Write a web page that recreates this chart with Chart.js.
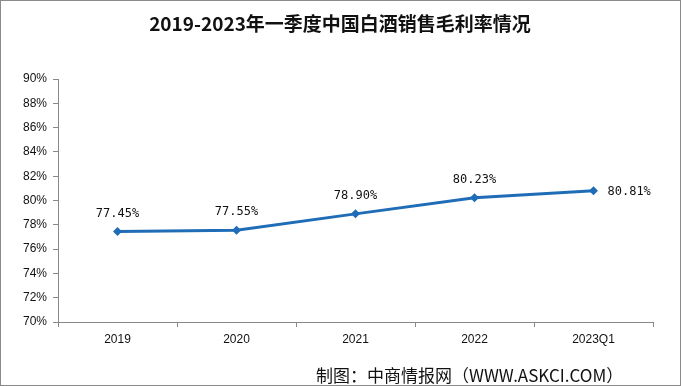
<!DOCTYPE html>
<html lang="zh">
<head>
<script src="https://cdn.jsdelivr.net/npm/chart.js@4/dist/chart.umd.min.js"></script>
<style>
    html, body { margin: 0; padding: 0; background: #fff; }
    #wrap { position: relative; width: 681px; height: 386px; }
</style>
</head>
<body>
<div id="wrap">
    <canvas id="margin-chart" width="681" height="386"></canvas>
</div>
<script>
    const labels = ["2019", "2020", "2021", "2022", "2023Q1"];
    const grossMargin = [77.45, 77.55, 78.90, 80.23, 80.81]; // %
    const titleText = "2019-2023年一季度中国白酒销售毛利率情况";
    const sourceText = "制图：中商情报网（WWW.ASKCI.COM）";

    const lineBlue = "#1f6db6";

    // title, source, frame and point labels
    const decorations = {
        id: "decorations",
        afterDatasetsDraw(chart) {
            const ctx = chart.ctx;
            const meta = chart.getDatasetMeta(0);
            ctx.save();
            ctx.fillStyle = "#111";
            ctx.font = "12px 'DejaVu Sans Mono', monospace";
            ctx.textBaseline = "middle";
            meta.data.forEach((pt, i) => {
                const txt = grossMargin[i].toFixed(2) + "%";
                if (i === meta.data.length - 1) {
                    ctx.textAlign = "left";
                    ctx.fillText(txt, pt.x + 14, pt.y + 1);
                } else {
                    ctx.textAlign = "center";
                    ctx.fillText(txt, pt.x, pt.y - 18);
                }
            });
            ctx.restore();
        },
        afterDraw(chart) {
            const ctx = chart.ctx;
            ctx.save();
            ctx.fillStyle = "#111";
            ctx.textAlign = "center";
            ctx.textBaseline = "middle";
            ctx.font = "bold 19px 'Noto Sans CJK SC'";
            ctx.fillText(titleText, 340, 24);
            ctx.textAlign = "left";
            ctx.font = "17px 'Noto Sans CJK SC'";
            ctx.fillText(sourceText, 316, 376);
            ctx.strokeStyle = "#8a8a8a";
            ctx.lineWidth = 1;
            ctx.strokeRect(0.5, 0.5, 680, 385);
            ctx.restore();
        }
    };

    const ch = new Chart(document.getElementById("margin-chart"), {
        type: "line",
        data: {
            labels: labels,
            datasets: [{
                data: grossMargin,
                borderColor: lineBlue,
                backgroundColor: lineBlue,
                borderWidth: 3,
                pointStyle: "rectRot",
                pointRadius: 4.5,
                pointBorderWidth: 0,
                tension: 0
            }]
        },
        options: {
            responsive: false,
            animation: false,
            layout: { padding: { top: 79, left: 0, right: 28, bottom: 0 } },
            plugins: {
                legend: { display: false },
                title: { display: false },
                tooltip: { enabled: false }
            },
            scales: {
                x: {
                    offset: true,
                    afterFit(scale) { scale.height = 64; },
                    grid: {
                        offset: true,
                        drawOnChartArea: false,
                        drawTicks: true,
                        tickLength: 5,
                        color: "#888"
                    },
                    border: { color: "#888", width: 1 },
                    ticks: {
                        color: "#111",
                        padding: 5,
                        font: { family: "'Liberation Sans', sans-serif", size: 12 }
                    }
                },
                y: {
                    min: 70,
                    max: 90,
                    afterFit(scale) { scale.width = 58; },
                    grid: {
                        drawOnChartArea: false,
                        drawTicks: true,
                        tickLength: 5,
                        color: "#888"
                    },
                    border: { color: "#888", width: 1 },
                    ticks: {
                        stepSize: 2,
                        color: "#111",
                        padding: 6,
                        font: { family: "'Liberation Sans', sans-serif", size: 12 },
                        callback: v => v + "%"
                    }
                }
            }
        },
        plugins: [decorations]
    });
</script>
</body>
</html>
